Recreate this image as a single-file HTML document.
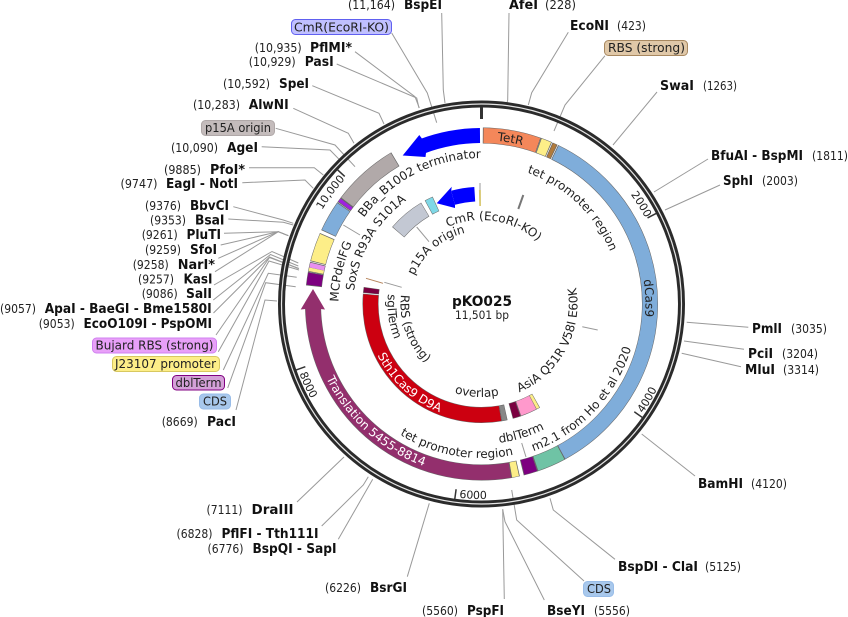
<!DOCTYPE html>
<html><head><meta charset="utf-8"><style>
html,body{margin:0;padding:0;background:#fff}
svg{display:block}
text{font-family:"DejaVu Sans","Liberation Sans",sans-serif;fill:#222;font-size:12.3px}
.b{font-weight:bold;fill:#111;font-size:13px}
.c text,text.c{font-size:12px}
.l{fill:none;stroke:#999;stroke-width:1}
.o circle{fill:none;stroke-width:15}
.u{stroke:#666;stroke-width:16!important}
.w{fill:#fff!important;font-size:12px}
</style></head><body>
<svg width="848" height="617" viewBox="0 0 848 617" xmlns="http://www.w3.org/2000/svg">
<!-- connectors -->
<g class="l">
<polyline points="441.7,13 443.3,90 445,103"/>
<polyline points="391.7,33 427.3,93 436.7,122.7"/>
<polyline points="355,51.7 415,96.7 419.3,108"/>
<polyline points="336.7,64 416.7,98 419,108"/>
<polyline points="312.3,85.7 379,113.3 384,124"/>
<polyline points="293.3,108.3 348.3,133.3 354,143.3"/>
<polyline points="275.7,128.3 335,145 355,166.7"/>
<polyline points="261.7,146.7 330,150 343,163.3"/>
<polyline points="249,167.7 314.3,167.7 323.3,175"/>
<polyline points="242.3,182.7 305,180 313.3,188.3"/>
<polyline points="233.3,206.7 283.3,220 293.3,223.3"/>
<polyline points="228.3,219 283.3,222.3 293.3,225"/>
<polyline points="224,233.3 278.3,231.7 288.3,235.7"/>
<polyline points="220.7,245 278.3,231.7 288.3,235.7"/>
<polyline points="218.3,258.3 278.3,231.7 288.3,235.7"/>
<polyline points="215,271.7 278.3,231.7 288.3,235.7"/>
<polyline points="214,285 272,251.5 298.3,263"/>
<polyline points="213.3,300 270.5,254.5 298.3,266"/>
<polyline points="213.5,313 269.5,257 298.3,268.5"/>
<polyline points="216,335 269.5,257.5 299,268.5"/>
<polyline points="218.3,351.7 269,261 299,270"/>
<polyline points="223.3,370 268.3,273.3 296.7,277.3"/>
<polyline points="227.7,388 265.7,282.7 295.7,286.7"/>
<polyline points="236,410 265,300 277,301"/>
<polyline points="509,13 507.7,100 507,103"/>
<polyline points="568.3,32.3 531.7,92.7 528.3,105"/>
<polyline points="605,55.7 565,105 554,131"/>
<polyline points="657,92 613,145"/>
<polyline points="708,159 654,192"/>
<polyline points="720,185 665,210"/>
<polyline points="748.3,327.3 686.7,322.3"/>
<polyline points="744,349.3 684,341"/>
<polyline points="741,366.7 681.7,353.3"/>
<polyline points="695,476 641.7,434"/>
<polyline points="615,559.3 553.3,510 550,498.3"/>
<polyline points="584,581 516.7,520 511.7,490"/>
<polyline points="544.3,600 505,521.7 502.7,509.3"/>
<polyline points="504.3,599 502.7,509.3"/>
<polyline points="407.3,576.7 429.3,503.3"/>
<polyline points="338.3,539.3 372.7,479.3"/>
<polyline points="321.7,526 363.3,485 368.3,476.7"/>
<polyline points="297,502 344,457"/>
<polyline points="521.7,443 526,457"/>
<polyline points="343.3,225 360,235"/>
<polyline points="416.7,227 429,241.7"/>
<polyline points="384.3,282.3 401.7,287.3"/>
<polyline points="582.3,326.7 597.7,330"/>
<polyline points="480,183 480,191"/>
<polyline points="366,278.3 383,283.3" style="stroke:#b5835a"/>
<polyline points="523.3,195 518.3,209" style="stroke:#777;stroke-width:2"/>
</g>
<defs>
<path id="t73" d="M-73 0A73 73 0 0 1 73 0"/>
<path id="t84" d="M-84 0A84 84 0 0 1 84 0"/>
<path id="t128" d="M-128 0A128 128 0 0 1 128 0"/>
<path id="t139" d="M-139 0A139 139 0 0 1 139 0"/>
<path id="t143" d="M-143 0A143 143 0 0 1 143 0"/>
<path id="t146" d="M-146 0A146 146 0 0 1 146 0"/>
<path id="t164" d="M-164 0A164 164 0 0 1 164 0"/>
<path id="t185" d="M-185 0A185 185 0 0 1 185 0"/>
<path id="b81" d="M-81 0A81 81 0 0 0 81 0"/>
<path id="b93" d="M-93 0A93 93 0 0 0 93 0"/>
<path id="b94" d="M-94 0A94 94 0 0 0 94 0"/>
<path id="b96" d="M-96 0A96 96 0 0 0 96 0"/>
<path id="b116" d="M-116 0A116 116 0 0 0 116 0"/>
<path id="b140" d="M-140 0A140 140 0 0 0 140 0"/>
<path id="b154" d="M-154 0A154 154 0 0 0 154 0"/>
<path id="b156" d="M-156 0A156 156 0 0 0 156 0"/>
<path id="b172" d="M-172 0A172 172 0 0 0 172 0"/>
<path id="b195" d="M-195 0A195 195 0 0 0 195 0"/>
</defs>
<g transform="translate(481.5 304)">
<circle r="200" fill="none" stroke="#2b2b2b" stroke-width="7"/>
<circle r="200" fill="none" stroke="#e6e6e6" stroke-width="1.2"/>
<g stroke="#333" stroke-width="1.5">
<line x1="0" y1="-197" x2="0" y2="-185" stroke-width="3"/>
<line x1="0" y1="-197" x2="0" y2="-187" transform="rotate(62.6)"/>
<line x1="0" y1="-197" x2="0" y2="-187" transform="rotate(125.2)"/>
<line x1="0" y1="-197" x2="0" y2="-187" transform="rotate(187.8)"/>
<line x1="0" y1="-197" x2="0" y2="-187" transform="rotate(250.4)"/>
<line x1="0" y1="-197" x2="0" y2="-187" transform="rotate(313)"/>
</g>
<!-- outer track -->
<g class="o">
<circle class="u" r="168.5" pathLength="360" stroke-dasharray="19.3 360" transform="rotate(-89.55)"/>
<circle r="168.5" pathLength="360" stroke="#f4875a" stroke-dasharray="18.8 360" transform="rotate(-89.3)"/>
<circle class="u" r="168.5" pathLength="360" stroke-dasharray="3.8 360" transform="rotate(-70.25)"/>
<circle r="168.5" pathLength="360" stroke="#fdee88" stroke-dasharray="3.3 360" transform="rotate(-70)"/>
<circle class="u" r="168.5" pathLength="360" stroke-dasharray="1.8 360" transform="rotate(-66.25)"/>
<circle r="168.5" pathLength="360" stroke="#b07a3c" stroke-dasharray="1.3 360" transform="rotate(-66)"/>
<circle class="u" r="168.5" pathLength="360" stroke-dasharray="126.1 360" transform="rotate(-64.25)"/>
<circle r="168.5" pathLength="360" stroke="#7fadda" stroke-dasharray="125.6 360" transform="rotate(-64)"/>
<circle class="u" r="168.5" pathLength="360" stroke-dasharray="9.8 360" transform="rotate(61.65)"/>
<circle r="168.5" pathLength="360" stroke="#6fc3a5" stroke-dasharray="9.3 360" transform="rotate(61.9)"/>
<circle class="u" r="168.5" pathLength="360" stroke-dasharray="4.8 360" transform="rotate(71.35)"/>
<circle r="168.5" pathLength="360" stroke="#7d0080" stroke-dasharray="4.3 360" transform="rotate(71.6)"/>
<circle class="u" r="168.5" pathLength="360" stroke-dasharray="2.8 360" transform="rotate(77.45)"/>
<circle r="168.5" pathLength="360" stroke="#fdee88" stroke-dasharray="2.3 360" transform="rotate(77.7)"/>
<circle class="u" r="168.5" pathLength="360" stroke-dasharray="98.7 360" transform="rotate(80.05)"/>
<circle r="168.5" pathLength="360" stroke="#932f6d" stroke-dasharray="98.2 360" transform="rotate(80.3)"/>
<circle class="u" r="168.5" pathLength="360" stroke-dasharray="4.5 360" transform="rotate(186.05)"/>
<circle r="168.5" pathLength="360" stroke="#7d0080" stroke-dasharray="4 360" transform="rotate(186.3)"/>
<circle class="u" r="168.5" pathLength="360" stroke-dasharray="3.3 360" transform="rotate(190.55)"/>
<circle r="168.5" pathLength="360" stroke="#fdee88" stroke-dasharray="1.2 360" transform="rotate(190.8)"/>
<circle r="168.5" pathLength="360" stroke="#e88ff0" stroke-dasharray="1.6 360" transform="rotate(192)"/>
<circle class="u" r="168.5" pathLength="360" stroke-dasharray="9.7 360" transform="rotate(194.05)"/>
<circle r="168.5" pathLength="360" stroke="#fdee88" stroke-dasharray="9.2 360" transform="rotate(194.3)"/>
<circle class="u" r="168.5" pathLength="360" stroke-dasharray="10.5 360" transform="rotate(204.75)"/>
<circle r="168.5" pathLength="360" stroke="#7fadda" stroke-dasharray="10 360" transform="rotate(205)"/>
<circle class="u" r="168.5" pathLength="360" stroke-dasharray="1.7 360" transform="rotate(215.35)"/>
<circle r="168.5" pathLength="360" stroke="#a020e0" stroke-dasharray="1.2 360" transform="rotate(215.6)"/>
<circle class="u" r="168.5" pathLength="360" stroke-dasharray="22.3 360" transform="rotate(216.95)"/>
<circle r="168.5" pathLength="360" stroke="#b1a9a9" stroke-dasharray="21.8 360" transform="rotate(217.2)"/>
<circle r="168.5" pathLength="360" stroke="#0000ff" stroke-dasharray="20 360" transform="rotate(249.5)"/>
<!-- inner track -->
<circle class="u" r="111" pathLength="360" stroke-dasharray="104.9 360" transform="rotate(80.15)"/>
<circle r="111" pathLength="360" stroke="#cc0010" stroke-dasharray="104.4 360" transform="rotate(80.4)"/>
<circle class="u" r="111" pathLength="360" stroke-dasharray="2.9 360" transform="rotate(185.35)"/>
<circle r="111" pathLength="360" stroke="#7a0040" stroke-dasharray="2.4 360" transform="rotate(185.6)"/>
<circle class="u" r="111" pathLength="360" stroke-dasharray="2.9 360" transform="rotate(77.35)"/>
<circle r="111" pathLength="360" stroke="#888" stroke-dasharray="2.4 360" transform="rotate(77.6)"/>
<circle class="u" r="111" pathLength="360" stroke-dasharray="4.2 360" transform="rotate(70.55)"/>
<circle r="111" pathLength="360" stroke="#7a0040" stroke-dasharray="3.7 360" transform="rotate(70.8)"/>
<circle class="u" r="111" pathLength="360" stroke-dasharray="10.4 360" transform="rotate(60.55)"/>
<circle r="111" pathLength="360" stroke="#fdee88" stroke-dasharray="1.5 360" transform="rotate(60.8)"/>
<circle r="111" pathLength="360" stroke="#ff99cc" stroke-dasharray="8 360" transform="rotate(62.5)"/>
<circle class="u" r="110" pathLength="360" stroke-dasharray="18.5 360" transform="rotate(220.75)"/>
<circle r="110" pathLength="360" stroke="#c3c8d3" stroke-dasharray="18 360" transform="rotate(221)"/>
<circle class="u" r="110" pathLength="360" stroke-dasharray="4.3 360" transform="rotate(241.25)"/>
<circle r="110" pathLength="360" stroke="#7fd8e6" stroke-dasharray="3.8 360" transform="rotate(241.5)"/>
<circle r="110" pathLength="360" stroke="#0000ff" stroke-dasharray="11.5 360" transform="rotate(255)" style="stroke-width:14.5"/>
<circle r="106" pathLength="360" stroke="#d8c870" stroke-dasharray="1 360" transform="rotate(268.7)" style="stroke-width:16"/>
</g>
<!-- text on arcs -->
<g class="c">
<g transform="rotate(10)"><text><textPath href="#t164" startOffset="50%" text-anchor="middle">TetR</textPath></text></g>
<g transform="rotate(88)"><text><textPath href="#t164" startOffset="50%" text-anchor="middle">dCas9</textPath></text></g>
<g transform="rotate(43.5)"><text><textPath href="#t139" startOffset="50%" text-anchor="middle">tet promoter region</textPath></text></g>
<g transform="rotate(58)"><text style="font-size:11px"><textPath href="#t185" startOffset="50%" text-anchor="middle">2000</textPath></text></g>
<g transform="rotate(306.5)"><text style="font-size:11px"><textPath href="#t185" startOffset="50%" text-anchor="middle">10,000</textPath></text></g>
<g transform="rotate(333)"><text><textPath href="#t146" startOffset="50%" text-anchor="middle">BBa_B1002 terminator</textPath></text></g>
<g transform="rotate(300)"><text><textPath href="#t128" startOffset="50%" text-anchor="middle">SoxS R93A S101A</textPath></text></g>
<g transform="rotate(283)"><text><textPath href="#t143" startOffset="50%" text-anchor="middle">MCPdelFG</textPath></text></g>
<g transform="rotate(320)"><text><textPath href="#t73" startOffset="50%" text-anchor="middle">p15A origin</textPath></text></g>
<g transform="rotate(9)"><text><textPath href="#t84" startOffset="50%" text-anchor="middle">CmR (EcoRI-KO)</textPath></text></g>
<g transform="rotate(-46.5)"><text><textPath href="#b156" startOffset="50%" text-anchor="middle">m2.1 from Ho et al 2020</textPath></text></g>
<g transform="rotate(-60)"><text style="font-size:11px"><textPath href="#b195" startOffset="50%" text-anchor="middle">4000</textPath></text></g>
<g transform="rotate(2.5)"><text style="font-size:11px"><textPath href="#b195" startOffset="50%" text-anchor="middle">6000</textPath></text></g>
<g transform="rotate(65)"><text style="font-size:11px"><textPath href="#b195" startOffset="50%" text-anchor="middle">8000</textPath></text></g>
<g transform="rotate(70)"><text><textPath href="#b81" startOffset="50%" text-anchor="middle">RBS (strong)</textPath></text></g>
<g transform="rotate(82)"><text><textPath href="#b94" startOffset="50%" text-anchor="middle">sglTerm</textPath></text></g>
<g transform="rotate(3)"><text><textPath href="#b93" startOffset="50%" text-anchor="middle">overlap</textPath></text></g>
<g transform="rotate(-61.5)"><text><textPath href="#b96" startOffset="50%" text-anchor="middle">AsiA Q51R V58I E60K</textPath></text></g>
<g transform="rotate(-17)"><text><textPath href="#b140" startOffset="50%" text-anchor="middle">dblTerm</textPath></text></g>
<g transform="rotate(10)"><text><textPath href="#b154" startOffset="50%" text-anchor="middle">tet promoter region</textPath></text></g>
<g transform="rotate(42)"><text class="w"><textPath href="#b172" startOffset="50%" text-anchor="middle">Translation 5455-8814</textPath></text></g>
<g transform="rotate(42.5)"><text class="w"><textPath href="#b116" startOffset="50%" text-anchor="middle">Sth1Cas9 D9A</textPath></text></g>
</g>
</g>
<!-- arrow heads -->
<polygon fill="#932f6d" points="313,289 325,309.5 320.5,309 305.5,309 300.7,309.5"/>
<polygon fill="#0000ff" points="402.7,155.5 419.3,135 423,140 426,153 425.5,157"/>
<polygon fill="#0000ff" points="436.7,203.3 451.7,186.7 451.2,191 455,205 455,208"/>
<!-- centre -->
<text class="b" x="452" y="306" textLength="60" lengthAdjust="spacingAndGlyphs" style="font-size:14px">pKO025</text>
<text x="455" y="319" textLength="54" lengthAdjust="spacingAndGlyphs" style="font-size:11.5px">11,501 bp</text>
<!-- boxes -->
<g stroke-width="1">
<rect x="291.5" y="19.5" width="100" height="15" rx="4" fill="#c0c0ff" stroke="#6060f0"/>
<rect x="201.5" y="120.5" width="73" height="15" rx="4" fill="#c4bcbc" stroke="#b0a8a8"/>
<rect x="92.5" y="338" width="124" height="15" rx="4" fill="#e8a0f8" stroke="#d080f0"/>
<rect x="112.5" y="356.5" width="107" height="15" rx="4" fill="#fdee88" stroke="#d8c860"/>
<rect x="172.5" y="375.5" width="52" height="14.5" rx="4" fill="#d4a0d8" stroke="#800080"/>
<rect x="199.5" y="394" width="31" height="15" rx="4" fill="#a8c8ec" stroke="#98bce8"/>
<rect x="604.5" y="40.5" width="83" height="15" rx="4" fill="#e0c8a8" stroke="#a88860"/>
<rect x="583.5" y="581.5" width="30" height="15" rx="4" fill="#a8c8ec" stroke="#98bce8"/>
</g>
<g>
<text x="294" y="31.5" textLength="95" lengthAdjust="spacingAndGlyphs">CmR(EcoRI-KO)</text>
<text x="205" y="132" textLength="66" lengthAdjust="spacingAndGlyphs">p15A origin</text>
<text x="95.5" y="349.5" textLength="118" lengthAdjust="spacingAndGlyphs">Bujard RBS (strong)</text>
<text x="115" y="368" textLength="101" lengthAdjust="spacingAndGlyphs">J23107 promoter</text>
<text x="175.5" y="387" textLength="46" lengthAdjust="spacingAndGlyphs">dblTerm</text>
<text x="203" y="405.5" textLength="24" lengthAdjust="spacingAndGlyphs">CDS</text>
<text x="608" y="52" textLength="77" lengthAdjust="spacingAndGlyphs">RBS (strong)</text>
<text x="587" y="593" textLength="24" lengthAdjust="spacingAndGlyphs">CDS</text>
</g>
<!-- site labels -->
<g>
<text x="348" y="9" textLength="47" lengthAdjust="spacingAndGlyphs">(11,164)</text><text class="b" x="404" y="9" textLength="38" lengthAdjust="spacingAndGlyphs">BspEI</text>
<text x="254.7" y="52" textLength="47" lengthAdjust="spacingAndGlyphs">(10,935)</text><text class="b" x="310" y="52" textLength="42" lengthAdjust="spacingAndGlyphs">PflMI*</text>
<text x="248.7" y="66" textLength="47" lengthAdjust="spacingAndGlyphs">(10,929)</text><text class="b" x="304.7" y="66" textLength="29" lengthAdjust="spacingAndGlyphs">PasI</text>
<text x="223" y="88" textLength="47" lengthAdjust="spacingAndGlyphs">(10,592)</text><text class="b" x="279" y="88" textLength="30" lengthAdjust="spacingAndGlyphs">SpeI</text>
<text x="193" y="109" textLength="47" lengthAdjust="spacingAndGlyphs">(10,283)</text><text class="b" x="248.7" y="109" textLength="40" lengthAdjust="spacingAndGlyphs">AlwNI</text>
<text x="171" y="152" textLength="47" lengthAdjust="spacingAndGlyphs">(10,090)</text><text class="b" x="227" y="152" textLength="31" lengthAdjust="spacingAndGlyphs">AgeI</text>
<text x="164" y="174" textLength="37" lengthAdjust="spacingAndGlyphs">(9885)</text><text class="b" x="210" y="174" textLength="35" lengthAdjust="spacingAndGlyphs">PfoI*</text>
<text x="120.5" y="188" textLength="37" lengthAdjust="spacingAndGlyphs">(9747)</text><text class="b" x="166" y="188" textLength="72" lengthAdjust="spacingAndGlyphs">EagI - NotI</text>
<text x="145" y="210" textLength="36" lengthAdjust="spacingAndGlyphs">(9376)</text><text class="b" x="190" y="210" textLength="39" lengthAdjust="spacingAndGlyphs">BbvCI</text>
<text x="150" y="224.5" textLength="36" lengthAdjust="spacingAndGlyphs">(9353)</text><text class="b" x="195" y="224.5" textLength="29.5" lengthAdjust="spacingAndGlyphs">BsaI</text>
<text x="141.7" y="239" textLength="36" lengthAdjust="spacingAndGlyphs">(9261)</text><text class="b" x="186.5" y="239" textLength="34.5" lengthAdjust="spacingAndGlyphs">PluTI</text>
<text x="145" y="254" textLength="36" lengthAdjust="spacingAndGlyphs">(9259)</text><text class="b" x="190" y="254" textLength="27" lengthAdjust="spacingAndGlyphs">SfoI</text>
<text x="132.7" y="269" textLength="36" lengthAdjust="spacingAndGlyphs">(9258)</text><text class="b" x="177.7" y="269" textLength="37.3" lengthAdjust="spacingAndGlyphs">NarI*</text>
<text x="138" y="283.5" textLength="36" lengthAdjust="spacingAndGlyphs">(9257)</text><text class="b" x="183.5" y="283.5" textLength="29" lengthAdjust="spacingAndGlyphs">KasI</text>
<text x="141.7" y="298" textLength="36" lengthAdjust="spacingAndGlyphs">(9086)</text><text class="b" x="186" y="298" textLength="26" lengthAdjust="spacingAndGlyphs">SalI</text>
<text x="0" y="313" textLength="36" lengthAdjust="spacingAndGlyphs">(9057)</text><text class="b" x="44.7" y="313" textLength="167" lengthAdjust="spacingAndGlyphs">ApaI - BaeGI - Bme1580I</text>
<text x="38.7" y="328" textLength="36" lengthAdjust="spacingAndGlyphs">(9053)</text><text class="b" x="83.5" y="328" textLength="128.5" lengthAdjust="spacingAndGlyphs">EcoO109I - PspOMI</text>
<text x="161.7" y="426" textLength="36" lengthAdjust="spacingAndGlyphs">(8669)</text><text class="b" x="207" y="426" textLength="29" lengthAdjust="spacingAndGlyphs">PacI</text>
<text class="b" x="509" y="9" textLength="29" lengthAdjust="spacingAndGlyphs">AfeI</text><text x="545" y="9" textLength="31" lengthAdjust="spacingAndGlyphs">(228)</text>
<text class="b" x="570" y="30" textLength="39" lengthAdjust="spacingAndGlyphs">EcoNI</text><text x="617" y="30" textLength="29" lengthAdjust="spacingAndGlyphs">(423)</text>
<text class="b" x="660" y="90" textLength="34" lengthAdjust="spacingAndGlyphs">SwaI</text><text x="703" y="90" textLength="34" lengthAdjust="spacingAndGlyphs">(1263)</text>
<text class="b" x="711" y="160" textLength="92" lengthAdjust="spacingAndGlyphs">BfuAI - BspMI</text><text x="812" y="160" textLength="36" lengthAdjust="spacingAndGlyphs">(1811)</text>
<text class="b" x="723" y="185" textLength="30" lengthAdjust="spacingAndGlyphs">SphI</text><text x="762" y="185" textLength="36" lengthAdjust="spacingAndGlyphs">(2003)</text>
<text class="b" x="752" y="333" textLength="30" lengthAdjust="spacingAndGlyphs">PmlI</text><text x="791" y="333" textLength="36" lengthAdjust="spacingAndGlyphs">(3035)</text>
<text class="b" x="748" y="358" textLength="25" lengthAdjust="spacingAndGlyphs">PciI</text><text x="782" y="358" textLength="36" lengthAdjust="spacingAndGlyphs">(3204)</text>
<text class="b" x="745" y="374" textLength="30" lengthAdjust="spacingAndGlyphs">MluI</text><text x="783" y="374" textLength="36" lengthAdjust="spacingAndGlyphs">(3314)</text>
<text class="b" x="698" y="488" textLength="45" lengthAdjust="spacingAndGlyphs">BamHI</text><text x="751" y="488" textLength="36" lengthAdjust="spacingAndGlyphs">(4120)</text>
<text class="b" x="618" y="571" textLength="80" lengthAdjust="spacingAndGlyphs">BspDI - ClaI</text><text x="705" y="571" textLength="36" lengthAdjust="spacingAndGlyphs">(5125)</text>
<text class="b" x="547" y="615" textLength="38" lengthAdjust="spacingAndGlyphs">BseYI</text><text x="594" y="615" textLength="36" lengthAdjust="spacingAndGlyphs">(5556)</text>
<text x="422" y="615" textLength="36" lengthAdjust="spacingAndGlyphs">(5560)</text><text class="b" x="467" y="615" textLength="37" lengthAdjust="spacingAndGlyphs">PspFI</text>
<text x="325" y="592" textLength="36" lengthAdjust="spacingAndGlyphs">(6226)</text><text class="b" x="370" y="592" textLength="37" lengthAdjust="spacingAndGlyphs">BsrGI</text>
<text x="207.5" y="553" textLength="36" lengthAdjust="spacingAndGlyphs">(6776)</text><text class="b" x="252.5" y="553" textLength="84" lengthAdjust="spacingAndGlyphs">BspQI - SapI</text>
<text x="176.5" y="538" textLength="36" lengthAdjust="spacingAndGlyphs">(6828)</text><text class="b" x="221.5" y="538" textLength="97" lengthAdjust="spacingAndGlyphs">PflFI - Tth111I</text>
<text x="206.5" y="514" textLength="36" lengthAdjust="spacingAndGlyphs">(7111)</text><text class="b" x="251.5" y="514" textLength="42" lengthAdjust="spacingAndGlyphs">DraIII</text>
</g>
</svg>
</body></html>
